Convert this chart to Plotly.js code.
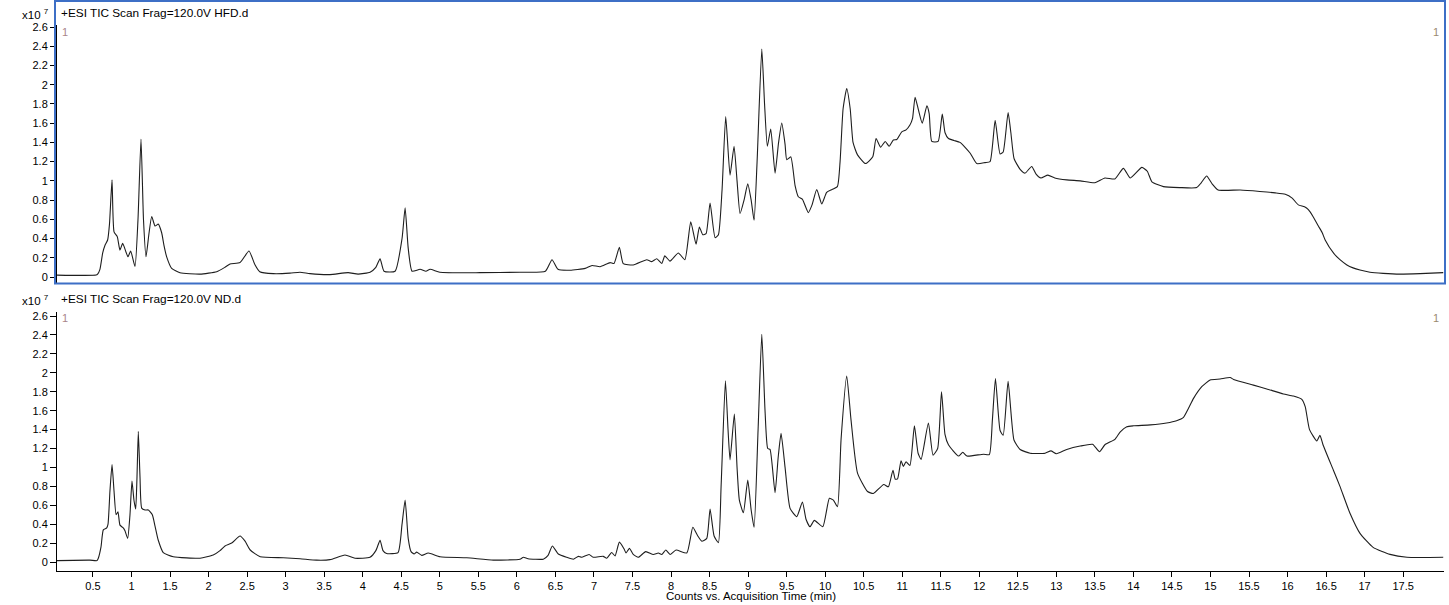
<!DOCTYPE html>
<html>
<head>
<meta charset="utf-8">
<script src="https://cdn.plot.ly/plotly-3.0.1.min.js"></script>
<style>
html,body{margin:0;padding:0;background:#fff;}
#chart{width:1449px;height:605px;}
</style>
</head>
<body>
<div id="chart"></div>
<script>
// Retention time (min) and TIC counts (x10^7), HFD sample
const hfdTime = [0.033,0.54,0.56,0.59,0.626,0.656,0.69,0.714,0.747,0.773,0.815,0.85,0.885,0.928,0.954,0.989,1.045,1.084,1.123,1.155,1.188,1.226,1.262,1.305,1.347,1.391,1.421,1.456,1.521,1.629,1.889,2.105,2.21,2.278,2.408,2.524,2.60,2.664,2.84,3.056,3.186,3.316,3.575,3.81,3.94,4.095,4.17,4.225,4.276,4.42,4.51,4.55,4.59,4.64,4.744,4.82,4.874,5.0,5.52,6.04,6.37,6.456,6.534,6.69,6.886,6.976,7.08,7.21,7.26,7.33,7.38,7.51,7.685,7.75,7.815,7.88,7.92,7.987,8.095,8.18,8.256,8.325,8.368,8.412,8.455,8.507,8.572,8.615,8.662,8.71,8.766,8.818,8.857,8.896,8.948,8.996,9.04,9.078,9.117,9.178,9.214,9.25,9.294,9.35,9.396,9.437,9.48,9.502,9.554,9.61,9.652,9.704,9.782,9.83,9.891,9.956,10.02,10.09,10.159,10.194,10.233,10.28,10.325,10.362,10.42,10.524,10.618,10.661,10.72,10.78,10.83,10.885,10.93,10.994,11.05,11.10,11.134,11.167,11.21,11.26,11.32,11.35,11.384,11.466,11.52,11.556,11.6,11.673,11.75,11.88,11.967,12.075,12.14,12.206,12.27,12.31,12.374,12.41,12.452,12.53,12.594,12.68,12.737,12.8,12.89,12.98,13.135,13.31,13.50,13.63,13.76,13.87,13.96,14.11,14.18,14.24,14.39,14.6,14.82,14.88,14.95,15.02,15.10,15.385,15.64,15.84,15.97,16.06,16.14,16.22,16.27,16.33,16.40,16.45,16.488,16.6,16.68,16.77,16.85,16.94,17.07,17.24,17.46,17.72,18.02];
const hfdCounts = [0.02,0.02,0.03,0.08,0.25,0.33,0.385,0.55,1.01,0.47,0.42,0.28,0.35,0.26,0.21,0.27,0.11,0.6,1.435,0.6,0.21,0.45,0.63,0.53,0.55,0.46,0.33,0.21,0.09,0.045,0.03,0.055,0.10,0.135,0.15,0.27,0.13,0.055,0.035,0.04,0.05,0.035,0.025,0.045,0.03,0.05,0.1,0.19,0.06,0.06,0.4,0.72,0.3,0.06,0.08,0.06,0.08,0.05,0.045,0.05,0.06,0.18,0.08,0.07,0.09,0.12,0.107,0.15,0.14,0.31,0.14,0.125,0.18,0.16,0.19,0.14,0.22,0.165,0.25,0.18,0.575,0.34,0.52,0.44,0.45,0.77,0.41,0.44,0.9,1.67,1.06,1.36,1.0,0.66,0.8,0.97,0.8,0.59,1.2,2.37,1.8,1.36,1.54,1.08,1.4,1.60,1.38,1.22,1.25,0.95,0.835,0.81,0.67,0.75,0.91,0.76,0.88,0.91,0.94,1.2,1.75,1.96,1.75,1.4,1.27,1.18,1.25,1.44,1.35,1.41,1.36,1.425,1.43,1.51,1.53,1.58,1.65,1.87,1.74,1.60,1.78,1.7,1.41,1.41,1.695,1.5,1.44,1.42,1.40,1.29,1.18,1.19,1.2,1.63,1.28,1.3,1.71,1.5,1.23,1.12,1.08,1.15,1.07,1.03,1.06,1.03,1.01,1.00,0.98,1.03,1.02,1.13,1.03,1.14,1.10,0.99,0.94,0.93,0.93,0.98,1.05,0.97,0.905,0.905,0.89,0.875,0.86,0.82,0.75,0.73,0.70,0.63,0.53,0.46,0.385,0.245,0.18,0.125,0.095,0.073,0.05,0.038,0.03,0.035,0.045];

// ND sample
const ndTime = [0.033,0.46,0.552,0.569,0.604,0.634,0.678,0.695,0.72,0.747,0.773,0.80,0.824,0.85,0.893,0.915,0.95,0.98,1.006,1.032,1.054,1.071,1.088,1.11,1.132,1.175,1.218,1.27,1.305,1.347,1.412,1.542,1.889,2.06,2.148,2.213,2.30,2.408,2.473,2.54,2.67,2.97,3.187,3.40,3.575,3.77,3.90,4.094,4.17,4.225,4.263,4.31,4.458,4.51,4.55,4.59,4.627,4.666,4.70,4.766,4.85,5.003,5.35,5.695,6.04,6.084,6.145,6.343,6.405,6.46,6.538,6.647,6.733,6.798,6.84,6.937,6.99,7.12,7.166,7.23,7.274,7.33,7.39,7.417,7.46,7.51,7.576,7.672,7.77,7.836,7.88,7.932,7.988,8.066,8.205,8.283,8.344,8.40,8.464,8.507,8.559,8.615,8.65,8.706,8.74,8.766,8.822,8.857,8.887,8.939,8.996,9.04,9.078,9.13,9.178,9.22,9.255,9.285,9.35,9.39,9.428,9.48,9.545,9.632,9.705,9.753,9.804,9.86,9.97,10.055,10.107,10.16,10.207,10.28,10.336,10.42,10.55,10.626,10.76,10.82,10.88,10.91,10.94,10.985,11.015,11.05,11.1,11.158,11.206,11.245,11.34,11.40,11.46,11.51,11.555,11.6,11.73,11.786,11.84,12.055,12.13,12.17,12.21,12.27,12.31,12.374,12.45,12.53,12.66,12.854,12.93,13.0,13.135,13.31,13.47,13.56,13.63,13.76,13.83,13.914,14.0,14.22,14.43,14.56,14.65,14.78,14.887,14.995,15.125,15.255,15.30,15.557,15.73,15.946,16.076,16.185,16.23,16.285,16.38,16.42,16.46,16.595,16.68,16.81,16.94,17.11,17.33,17.55,18.02];
const ndCounts = [0.015,0.02,0.015,0.04,0.16,0.34,0.36,0.4,0.75,1.03,0.75,0.50,0.53,0.39,0.36,0.33,0.25,0.5,0.855,0.65,0.56,0.9,1.38,0.9,0.57,0.55,0.55,0.50,0.38,0.23,0.10,0.056,0.04,0.074,0.12,0.17,0.20,0.275,0.22,0.127,0.056,0.045,0.035,0.02,0.025,0.074,0.04,0.05,0.12,0.23,0.12,0.09,0.10,0.4,0.655,0.25,0.11,0.085,0.105,0.07,0.095,0.056,0.045,0.02,0.03,0.05,0.035,0.03,0.07,0.17,0.085,0.05,0.03,0.06,0.05,0.08,0.05,0.06,0.04,0.10,0.065,0.21,0.14,0.095,0.145,0.08,0.05,0.11,0.08,0.095,0.08,0.127,0.08,0.127,0.095,0.367,0.28,0.22,0.25,0.56,0.275,0.205,0.8,1.917,1.4,1.08,1.565,1.0,0.655,0.52,0.867,0.55,0.367,1.4,2.407,1.6,1.20,1.19,0.733,1.1,1.36,1.0,0.567,0.48,0.634,0.45,0.373,0.44,0.373,0.673,0.655,0.585,1.3,1.966,1.5,0.94,0.745,0.725,0.82,0.795,0.97,0.875,0.88,1.07,1.01,1.06,1.02,1.44,1.15,1.085,1.47,1.13,1.2,1.80,1.35,1.24,1.12,1.16,1.12,1.14,1.135,1.5,1.94,1.39,1.34,1.91,1.29,1.19,1.15,1.15,1.175,1.145,1.19,1.226,1.244,1.166,1.24,1.297,1.377,1.43,1.44,1.45,1.47,1.494,1.53,1.73,1.853,1.924,1.934,1.95,1.93,1.87,1.83,1.776,1.755,1.72,1.64,1.40,1.28,1.34,1.24,0.97,0.80,0.515,0.303,0.155,0.081,0.05,0.05];

const yTickVals = [0,0.2,0.4,0.6,0.8,1,1.2,1.4,1.6,1.8,2,2.2,2.4,2.6];
const yTickText = ['0','0.2','0.4','0.6','0.8','1','1.2','1.4','1.6','1.8','2','2.2','2.4','2.6'];
const xTickVals = [0.5,1,1.5,2,2.5,3,3.5,4,4.5,5,5.5,6,6.5,7,7.5,8,8.5,9,9.5,10,10.5,11,11.5,12,12.5,13,13.5,14,14.5,15,15.5,16,16.5,17,17.5];
const xTickText = xTickVals.map(v => String(v));
const panelTitles = ['+ESI TIC Scan Frag=120.0V HFD.d', '+ESI TIC Scan Frag=120.0V ND.d'];
const xAxisTitle = 'Counts vs. Acquisition Time (min)';

const FONT = 'Liberation Sans, Arial, sans-serif';
const lineStyle = {color:'#1e1e1e', width:1.1, shape:'spline', smoothing:0.5};

const traces = [
  {x: hfdTime, y: hfdCounts, xaxis:'x2', yaxis:'y2', mode:'lines', line: lineStyle, hoverinfo:'skip', showlegend:false},
  {x: ndTime, y: ndCounts, xaxis:'x', yaxis:'y', mode:'lines', line: lineStyle, hoverinfo:'skip', showlegend:false}
];

const PW = 1387, PH = 571;
const px = v => (v - 57) / PW;
const py = v => (PH - v) / PH;

const yCommon = {
  tickmode:'array', tickvals: yTickVals, ticktext: yTickText,
  ticks:'outside', ticklen:6, tickcolor:'#000', tickwidth:1,
  showline:true, linecolor:'#000', linewidth:1,
  showgrid:false, zeroline:false,
  tickfont:{family:FONT, size:11, color:'#000'}, fixedrange:true
};

const layout = {
  width:1449, height:605,
  margin:{l:57, r:5, t:0, b:34},
  paper_bgcolor:'#fff', plot_bgcolor:'#fff',
  showlegend:false,
  xaxis:{
    domain:[0,1], range:[0.033,18.03], anchor:'y',
    tickmode:'array', tickvals:xTickVals, ticktext:xTickText,
    ticks:'outside', ticklen:5, tickcolor:'#000', tickwidth:1,
    showline:true, linecolor:'#000', linewidth:1,
    showgrid:false, zeroline:false,
    tickfont:{family:FONT, size:11, color:'#000'}
  },
  yaxis: Object.assign({}, yCommon, {domain:[0, py(312)], range:[-0.095, 2.643], anchor:'x'}),
  xaxis2:{
    domain:[0,1], range:[0.033,18.03], anchor:'y2', matches:'x',
    showticklabels:false, ticks:'', showline:false, showgrid:false, zeroline:false
  },
  yaxis2: Object.assign({}, yCommon, {domain:[py(283), py(25)], range:[-0.0624, 2.621], anchor:'x2'}),
  shapes:[
    {type:'rect', xref:'paper', yref:'paper', x0:px(55), x1:px(1445), y0:py(283.5), y1:py(1),
     line:{color:'#3d6fc6', width:2}, fillcolor:'rgba(0,0,0,0)', layer:'above'}
  ],
  annotations:[
    {xref:'paper', yref:'paper', x:px(59), y:py(13), xanchor:'left', yanchor:'middle', showarrow:false,
     text:panelTitles[0], font:{family:FONT, size:11.8, color:'#000'}},
    {xref:'paper', yref:'paper', x:px(59), y:py(299), xanchor:'left', yanchor:'middle', showarrow:false,
     text:panelTitles[1], font:{family:FONT, size:11.8, color:'#000'}},
    {xref:'paper', yref:'paper', x:px(51), y:py(14), xanchor:'right', yanchor:'middle', showarrow:false,
     text:'x10 <sup>7</sup>', font:{family:FONT, size:11.5, color:'#000'}},
    {xref:'paper', yref:'paper', x:px(51), y:py(300), xanchor:'right', yanchor:'middle', showarrow:false,
     text:'x10 <sup>7</sup>', font:{family:FONT, size:11.5, color:'#000'}},
    {xref:'paper', yref:'paper', x:px(60), y:py(32), xanchor:'left', yanchor:'middle', showarrow:false,
     text:'1', font:{family:FONT, size:11, color:'#a8868a'}},
    {xref:'paper', yref:'paper', x:px(1441), y:py(32), xanchor:'right', yanchor:'middle', showarrow:false,
     text:'1', font:{family:FONT, size:11, color:'#9a8a70'}},
    {xref:'paper', yref:'paper', x:px(60), y:py(318), xanchor:'left', yanchor:'middle', showarrow:false,
     text:'1', font:{family:FONT, size:11, color:'#a8868a'}},
    {xref:'paper', yref:'paper', x:px(1441), y:py(318), xanchor:'right', yanchor:'middle', showarrow:false,
     text:'1', font:{family:FONT, size:11, color:'#9a8a70'}},
    {xref:'paper', yref:'paper', x:0.5, y:py(596), xanchor:'center', yanchor:'middle', showarrow:false,
     text:xAxisTitle, font:{family:FONT, size:11.5, color:'#000'}}
  ]
};

Plotly.newPlot('chart', traces, layout, {staticPlot:true, displayModeBar:false});
</script>
</body>
</html>
